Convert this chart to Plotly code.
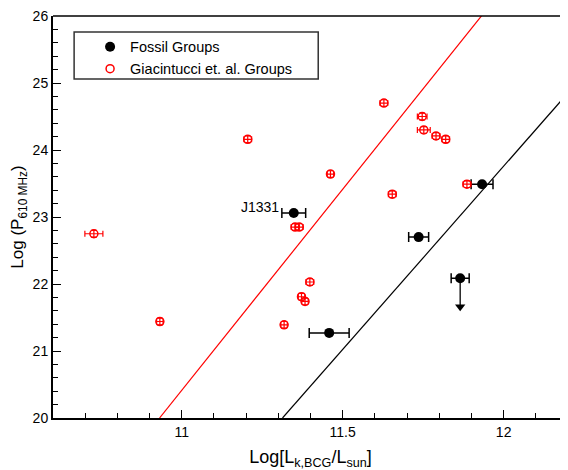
import plotly.graph_objects as go
import numpy as np

# Fossil groups (black)
fossil_x = [11.348, 11.933, 11.736, 11.458]
fossil_y = [23.06, 23.49, 22.70, 21.27]
fossil_xerr = [0.037, 0.034, 0.031, 0.062]

# Upper limit fossil group
ul_x = [11.865]
ul_y = [22.085]
ul_xerr = [0.028]
ul_limit = [21.66]

# Giacintucci et al. groups (red)
gia_x = [10.727, 10.932, 11.205, 11.318, 11.352, 11.365, 11.372, 11.383, 11.398,
         11.462, 11.628, 11.654, 11.747, 11.752, 11.790, 11.820, 11.886]
gia_y = [22.75, 21.44, 24.16, 21.39, 22.85, 22.85, 21.81, 21.74, 22.03,
         23.64, 24.70, 23.34, 24.50, 24.30, 24.21, 24.16, 23.49]
gia_xerr = [0.028, 0.01, 0.012, 0.01, 0.012, 0.012, 0.01, 0.01, 0.012,
            0.01, 0.012, 0.012, 0.015, 0.02, 0.012, 0.012, 0.012]
gia_yerr = [0.05] * len(gia_x)

# Fit lines: slope, x where y=20
red_fit = {"slope": 6.0, "x0": 10.931}
black_fit = {"slope": 5.47, "x0": 11.313}

x_range = [10.6, 12.2]
y_range = [20, 26]

fig = go.Figure()

def fit_line(fit):
    xs = np.array([fit["x0"], x_range[1]])
    ys = 20 + fit["slope"] * (xs - fit["x0"])
    return xs, ys

rx, ry = fit_line(red_fit)
fig.add_trace(go.Scatter(x=rx, y=ry, mode="lines", line=dict(color="red", width=1.2),
                         showlegend=False, hoverinfo="skip"))
bx, by = fit_line(black_fit)
fig.add_trace(go.Scatter(x=bx, y=by, mode="lines", line=dict(color="black", width=1.2),
                         showlegend=False, hoverinfo="skip"))

# upper limit arrow
fig.add_trace(go.Scatter(x=[ul_x[0], ul_x[0]], y=[ul_y[0], ul_limit[0]], mode="lines",
                         line=dict(color="black", width=1.3), showlegend=False, hoverinfo="skip"))
fig.add_trace(go.Scatter(x=ul_x, y=ul_limit, mode="markers",
                         marker=dict(symbol="triangle-down", size=9, color="black"),
                         showlegend=False, hoverinfo="skip"))
fig.add_trace(go.Scatter(x=ul_x, y=ul_y, mode="markers",
                         marker=dict(symbol="circle", size=10, color="black"),
                         error_x=dict(type="data", array=ul_xerr, color="black", thickness=1.5, width=5),
                         showlegend=False))

fig.add_trace(go.Scatter(x=fossil_x, y=fossil_y, mode="markers", name="Fossil Groups",
                         marker=dict(symbol="circle", size=10, color="black"),
                         error_x=dict(type="data", array=fossil_xerr, color="black", thickness=1.5, width=5)))

fig.add_trace(go.Scatter(x=gia_x, y=gia_y, mode="markers", name="Giacintucci et. al. Groups",
                         marker=dict(symbol="circle-open", size=8, color="red", line=dict(width=1.5)),
                         error_x=dict(type="data", array=gia_xerr, color="red", thickness=1.2, width=3),
                         error_y=dict(type="data", array=gia_yerr, color="red", thickness=1.2, width=3)))

fig.add_annotation(x=fossil_x[0], y=fossil_y[0], text="J1331", showarrow=False,
                   xanchor="right", xshift=-13, yshift=6,
                   font=dict(size=14, color="black", family="Liberation Sans, Arial"))

# top frame line
fig.add_shape(type="line", xref="paper", yref="paper", x0=0, x1=1, y0=1, y1=1,
              line=dict(color="black", width=1.5))
# legend frame
fig.add_shape(type="rect", xref="paper", yref="paper", x0=0.041, x1=0.515, y0=0.843, y1=0.960,
              line=dict(color="#333333", width=1.5), fillcolor="rgba(0,0,0,0)")

font = dict(family="Liberation Sans, Arial", size=14, color="black")

fig.update_layout(
    width=560, height=462,
    margin=dict(l=45, r=0, t=8, b=52),
    plot_bgcolor="white", paper_bgcolor="white",
    font=font,
    legend=dict(x=0.072, y=0.963, xanchor="left", yanchor="top",
                borderwidth=0, bgcolor="rgba(0,0,0,0)",
                font=dict(family="Liberation Sans, Arial", size=14.5, color="black"),
                itemwidth=30, tracegroupgap=0),
    xaxis=dict(range=x_range, dtick=0.5, tick0=11, ticks="inside", ticklen=8, tickwidth=1.3,
               tickcolor="black", showgrid=False, zeroline=False, showline=True,
               linecolor="black", linewidth=2, automargin=False, ticklabeloverflow="allow",
               minor=dict(dtick=0.1, ticks="inside", ticklen=5, tickwidth=1, tickcolor="black"),
               title=dict(text="Log[L<sub>k,BCG</sub>/L<sub>sun</sub>]", font=dict(size=18), standoff=13),
               tickfont=font),
    yaxis=dict(range=y_range, dtick=1, ticks="inside", ticklen=8, tickwidth=1.3,
               tickcolor="black", showgrid=False, zeroline=False, showline=True,
               linecolor="black", linewidth=2, automargin=False, ticklabeloverflow="allow",
               minor=dict(dtick=0.2, ticks="inside", ticklen=5, tickwidth=1, tickcolor="black"),
               title=dict(text="Log (P<sub>610 MHz</sub>)", font=dict(size=17), standoff=6),
               tickfont=font),
)

fig.write_html("out.html")
